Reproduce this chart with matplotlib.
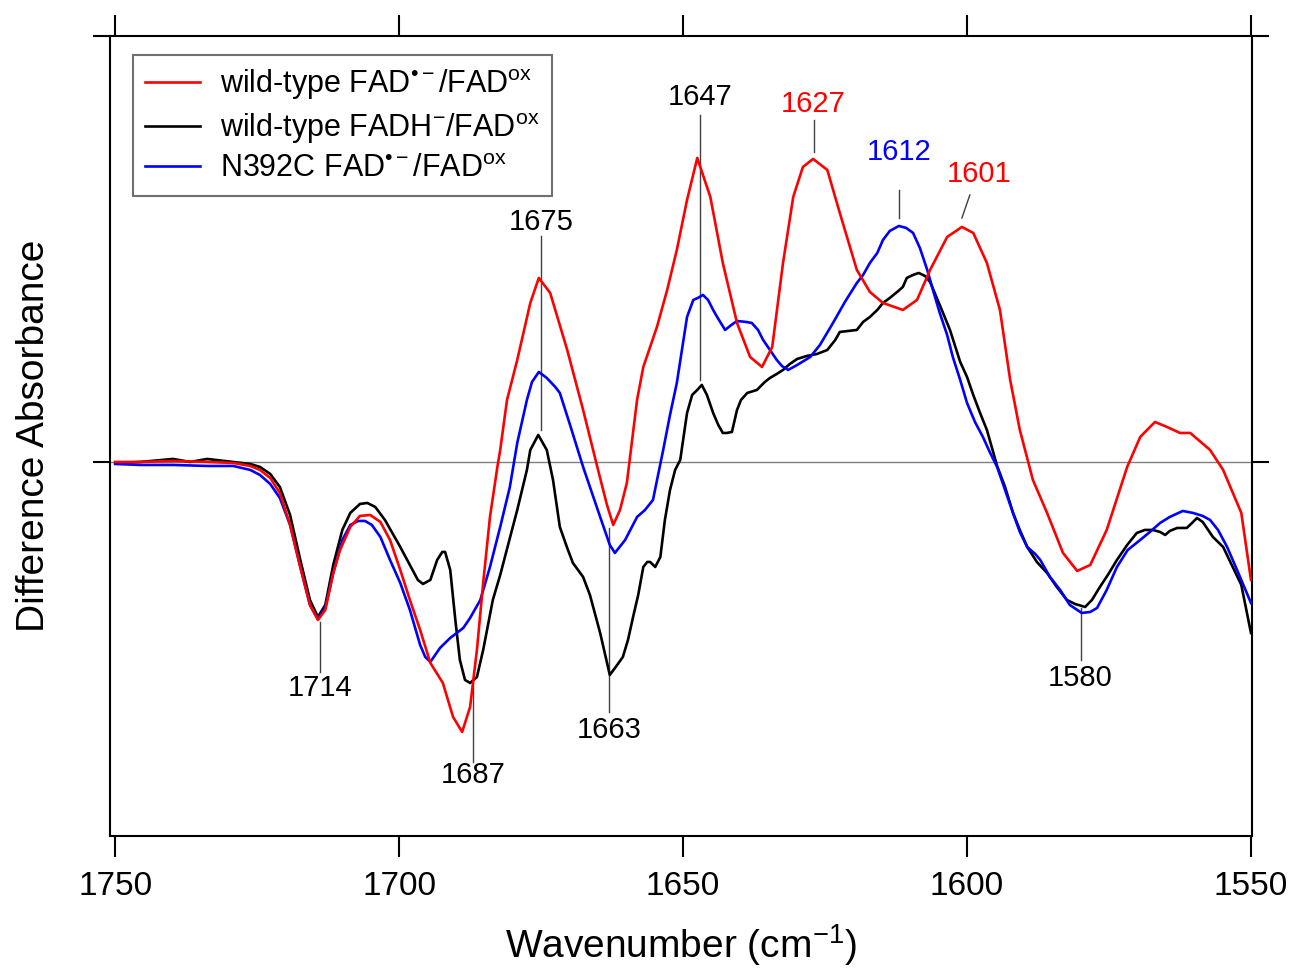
import matplotlib
matplotlib.use("Agg")
import matplotlib.pyplot as plt
import numpy as np

plt.rcParams["font.family"] = ["Liberation Sans", "DejaVu Sans"]
plt.rcParams["mathtext.fontset"] = "custom"
plt.rcParams["mathtext.rm"] = "Liberation Sans"
plt.rcParams["mathtext.it"] = "Liberation Sans:italic"
plt.rcParams["mathtext.bf"] = "Liberation Sans:bold"

# values (difference absorbance, arbitrary units)
wn_red = [1750, 1745.6, 1739.8, 1733.8, 1729.2, 1726.2, 1724.5, 1722.7, 1721.0, 1719.2,
          1717.4, 1715.7, 1714.3, 1713.0, 1711.6, 1710.4, 1708.6, 1706.9, 1705.1, 1703.3,
          1701.6, 1699.8, 1698.1, 1696.3, 1694.5, 1692.3, 1690.5, 1688.9, 1687.5, 1686.3,
          1685.2, 1684.0, 1682.7, 1682.2, 1681.0, 1679.2, 1676.9, 1675.4, 1673.4, 1670.4,
          1667.6, 1665.1, 1663.4, 1662.3, 1661.1, 1659.9, 1658.1, 1657.0, 1654.6, 1652.8,
          1651.1, 1649.3, 1647.5, 1645.2, 1643.0, 1640.5, 1638.2, 1636.1, 1634.3, 1632.4,
          1630.6, 1628.9, 1627.1, 1624.6, 1622.4, 1619.4, 1617.1, 1614.8, 1611.3, 1608.8,
          1606.5, 1603.5, 1600.9, 1598.9, 1596.5, 1594.2, 1592.4, 1590.7, 1588.4, 1585.9,
          1583.1, 1580.6, 1578.3, 1575.4, 1571.8, 1569.5, 1566.9, 1564.8, 1562.5, 1560.7,
          1557.2, 1554.9, 1551.7, 1550]
abs_red = [0.00, 0.00, 0.01, 0.00, -0.01, -0.04, -0.08, -0.16, -0.31, -0.63,
           -1.05, -1.43, -1.58, -1.48, -1.11, -0.88, -0.65, -0.54, -0.53, -0.60,
           -0.78, -1.08, -1.38, -1.68, -2.01, -2.21, -2.55, -2.70, -2.45, -1.88,
           -1.21, -0.55, -0.05, 0.12, 0.62, 1.02, 1.59, 1.84, 1.69, 1.12,
           0.52, -0.05, -0.43, -0.63, -0.48, -0.21, 0.62, 0.95, 1.35, 1.72,
           2.12, 2.62, 3.04, 2.65, 1.99, 1.39, 1.05, 0.95, 1.15, 1.99,
           2.65, 2.95, 3.03, 2.92, 2.49, 1.92, 1.70, 1.59, 1.52, 1.62,
           1.92, 2.25, 2.35, 2.29, 1.99, 1.52, 0.82, 0.32, -0.18, -0.51,
           -0.91, -1.09, -1.03, -0.68, -0.05, 0.25, 0.40, 0.35, 0.29, 0.29,
           0.12, -0.08, -0.51, -1.18]

wn_black = [1750, 1745.6, 1739.8, 1736.8, 1733.8, 1729.2, 1726.2, 1724.5, 1722.7, 1721.0,
            1719.2, 1717.4, 1715.7, 1714.3, 1713.0, 1711.6, 1710.0, 1708.6, 1706.9, 1705.6,
            1704.2, 1702.5, 1699.8, 1698.1, 1696.7, 1695.8, 1694.5, 1693.3, 1692.4, 1691.9,
            1691.0, 1690.1, 1689.3, 1688.4, 1687.5, 1686.3, 1685.2, 1683.5, 1682.2, 1679.2,
            1677.5, 1676.9, 1675.5, 1674.0, 1672.9, 1671.7, 1670.4, 1669.4, 1667.6, 1666.4,
            1664.6, 1663.7, 1662.9, 1661.6, 1660.6, 1659.7, 1658.8, 1657.9, 1657.0, 1656.3,
            1655.8, 1654.9, 1654.0, 1653.2, 1652.3, 1651.4, 1650.5, 1649.3, 1648.4, 1647.5,
            1646.7, 1645.8, 1644.7, 1643.8, 1643.0, 1642.3, 1641.4, 1640.5, 1639.8, 1638.7,
            1637.0, 1635.6, 1634.7, 1633.5, 1632.4, 1631.2, 1629.9, 1628.2, 1626.4, 1624.6,
            1623.2, 1622.4, 1620.9, 1619.4, 1618.3, 1617.1, 1615.8, 1614.8, 1613.6, 1612.3,
            1611.3, 1610.6, 1609.5, 1608.5, 1607.4, 1606.5, 1604.8, 1603.0, 1601.2, 1600.0,
            1598.9, 1597.7, 1596.5, 1594.7, 1593.3, 1591.9, 1590.7, 1589.4, 1587.7, 1585.9,
            1584.2, 1582.4, 1581.0, 1579.2, 1578.0, 1576.6, 1575.2, 1573.6, 1571.8, 1570.1,
            1568.7, 1567.3, 1566.0, 1565.1, 1564.3, 1563.0, 1561.3, 1560.2, 1559.5, 1558.5,
            1556.7, 1554.9, 1551.7, 1550]
abs_black = [-0.01, 0.00, 0.03, 0.00, 0.03, 0.00, -0.02, -0.05, -0.12, -0.25,
             -0.53, -0.98, -1.38, -1.55, -1.43, -1.03, -0.68, -0.51, -0.42, -0.41,
             -0.45, -0.58, -0.85, -1.03, -1.18, -1.22, -1.18, -0.98, -0.90, -0.90,
             -1.08, -1.58, -1.98, -2.18, -2.21, -2.15, -1.88, -1.38, -1.13, -0.48,
             -0.08, 0.12, 0.27, 0.12, -0.18, -0.65, -0.86, -1.01, -1.15, -1.33,
             -1.71, -1.93, -2.13, -2.03, -1.95, -1.78, -1.55, -1.33, -1.05, -1.00,
             -1.00, -1.05, -0.95, -0.58, -0.28, -0.08, 0.02, 0.49, 0.67, 0.72,
             0.77, 0.67, 0.49, 0.37, 0.29, 0.29, 0.30, 0.52, 0.62, 0.69,
             0.72, 0.80, 0.84, 0.88, 0.92, 0.98, 1.03, 1.06, 1.08, 1.12,
             1.22, 1.30, 1.31, 1.32, 1.40, 1.45, 1.52, 1.59, 1.64, 1.70,
             1.75, 1.84, 1.87, 1.89, 1.86, 1.80, 1.57, 1.32, 1.00, 0.85,
             0.67, 0.49, 0.32, -0.04, -0.25, -0.51, -0.68, -0.85, -1.00, -1.11,
             -1.25, -1.38, -1.42, -1.45, -1.38, -1.25, -1.13, -0.98, -0.83, -0.71,
             -0.68, -0.68, -0.70, -0.73, -0.69, -0.66, -0.66, -0.60, -0.56, -0.60,
             -0.75, -0.85, -1.23, -1.71]

wn_blue = [1750, 1745.6, 1739.8, 1733.8, 1729.2, 1726.2, 1724.5, 1722.7, 1721.0, 1719.2,
           1717.4, 1715.7, 1714.3, 1713.0, 1711.6, 1710.0, 1708.6, 1707.2, 1706.0, 1704.8,
           1703.3, 1701.6, 1699.8, 1698.1, 1696.3, 1695.4, 1694.5, 1692.8, 1691.0, 1688.7,
           1687.5, 1685.7, 1684.0, 1682.2, 1680.5, 1679.2, 1677.5, 1676.6, 1675.4, 1674.0,
           1672.5, 1671.7, 1669.9, 1667.6, 1664.6, 1662.9, 1662.0, 1660.2, 1658.1, 1656.7,
           1655.3, 1653.5, 1652.3, 1651.1, 1649.3, 1648.2, 1647.4, 1646.5, 1645.6, 1644.7,
           1644.0, 1642.6, 1641.5, 1640.5, 1638.9, 1637.9, 1636.8, 1635.9, 1634.7, 1633.5,
           1632.6, 1631.5, 1629.9, 1627.6, 1625.9, 1623.6, 1621.5, 1619.4, 1618.3, 1617.1,
           1615.8, 1614.8, 1613.6, 1612.0, 1610.7, 1609.5, 1608.3, 1607.0, 1606.0, 1604.8,
           1603.5, 1602.5, 1601.2, 1600.0, 1598.6, 1597.2, 1596.0, 1594.7, 1593.3, 1591.9,
           1590.7, 1589.4, 1588.0, 1587.1, 1585.4, 1583.6, 1581.9, 1579.8, 1578.3, 1577.1,
           1575.4, 1573.6, 1571.7, 1569.5, 1567.8, 1566.0, 1564.3, 1562.0, 1560.2, 1558.5,
           1557.2, 1555.8, 1554.2, 1552.3, 1550]
abs_blue = [-0.02, -0.03, -0.03, -0.04, -0.04, -0.08, -0.13, -0.22, -0.36, -0.63,
            -1.05, -1.43, -1.57, -1.46, -1.11, -0.78, -0.63, -0.59, -0.59, -0.63,
            -0.75, -0.98, -1.21, -1.48, -1.83, -1.95, -2.00, -1.86, -1.76, -1.66,
            -1.56, -1.38, -1.05, -0.65, -0.25, 0.19, 0.62, 0.80, 0.90, 0.84,
            0.75, 0.69, 0.37, -0.05, -0.55, -0.83, -0.91, -0.78, -0.55, -0.48,
            -0.38, 0.12, 0.47, 0.79, 1.45, 1.62, 1.64, 1.67, 1.62, 1.52,
            1.45, 1.32, 1.37, 1.41, 1.40, 1.39, 1.32, 1.22, 1.12, 1.02,
            0.96, 0.92, 0.97, 1.05, 1.17, 1.39, 1.60, 1.79, 1.87, 1.99,
            2.09, 2.22, 2.31, 2.36, 2.34, 2.29, 2.14, 1.92, 1.72, 1.49,
            1.27, 1.05, 0.82, 0.59, 0.40, 0.25, 0.10, -0.05, -0.28, -0.51,
            -0.70, -0.85, -0.92, -0.98, -1.15, -1.28, -1.43, -1.51, -1.50, -1.46,
            -1.28, -1.05, -0.88, -0.78, -0.70, -0.61, -0.55, -0.49, -0.51, -0.54,
            -0.58, -0.68, -0.85, -1.10, -1.41]

labels = ["wild-type FAD$^{\u2022-}$/FAD$^{\\mathrm{ox}}$",
          "wild-type FADH$^{-}$/FAD$^{\\mathrm{ox}}$",
          "N392C FAD$^{\u2022-}$/FAD$^{\\mathrm{ox}}$"]

# marked bands and their label colours
bands = [1714, 1687, 1675, 1663, 1647, 1627, 1612, 1601, 1580]
band_colors = ["black", "black", "black", "black", "black", "red", "blue", "red", "black"]
# leader line ends and label heights (same units as the y axis)
lead_y0 = [-1.60, -2.21, 0.32, -0.66, 0.82, 3.10, 2.44, 2.44, -1.46]
lead_y1 = [-2.10, -3.00, 2.26, -2.50, 3.47, 3.42, 2.72, 2.67, -1.98]
text_y = [-2.26, -3.13, 2.40, -2.68, 3.65, 3.58, 3.10, 2.88, -2.16]

fig = plt.figure(figsize=(13.04, 9.69), dpi=100)
ax = fig.add_axes([0.0844, 0.1373, 0.8758, 0.8256])

ax.axhline(0, color="#808080", linewidth=1.0, zorder=1)

for i, wn in enumerate(bands):
    x0 = wn
    x1 = wn
    tx = wn
    if wn == 1601:
        # this one has a slanted leader
        x0 = 1600.9
        x1 = 1599.5
        tx = 1597.8
    ax.plot([x0, x1], [lead_y0[i], lead_y1[i]], color="#404040", linewidth=1.0, zorder=1)
    ax.text(tx, text_y[i], str(wn), color=band_colors[i], fontsize=21,
            ha="center", va="center")

ax.plot(wn_black, abs_black, color="black", linewidth=1.9, label=labels[1], zorder=3)
ax.plot(wn_blue, abs_blue, color="#0000ff", linewidth=1.9, label=labels[2], zorder=3)
ax.plot(wn_red, abs_red, color="#ff0000", linewidth=1.9, label=labels[0], zorder=4)

handles, labs = ax.get_legend_handles_labels()
order = [2, 0, 1]
leg = ax.legend([handles[k] for k in order], [labs[k] for k in order],
                loc="upper left", bbox_to_anchor=(0.02, 0.976), fontsize=22,
                handlelength=1.8, handletextpad=0.65, labelspacing=0.28,
                borderpad=0.4, borderaxespad=0.0, fancybox=False, framealpha=1)
leg.get_frame().set_edgecolor("#707070")
leg.get_frame().set_linewidth(1.5)

ax.set_xlim(1750.9, 1549.8)
ax.set_ylim(-3.74, 4.26)

ax.set_xticks([1750, 1700, 1650, 1600, 1550])
ax.set_yticks([0, 4.26])
ax.set_yticklabels([])
ax.tick_params(axis="x", which="major", direction="out", length=15, width=1.5,
               labelsize=24, pad=10, top=True, bottom=True, labeltop=False)
ax.tick_params(axis="y", which="major", direction="out", length=12, width=1.5,
               left=True, right=True, labelleft=False)
for sp in ax.spines.values():
    sp.set_linewidth(1.5)

ax.set_xlabel("Wavenumber (cm$^{-1}$)", fontsize=28, labelpad=15)
ax.set_ylabel("Difference Absorbance", fontsize=28, labelpad=30)

fig.savefig("out.png", dpi=100)
